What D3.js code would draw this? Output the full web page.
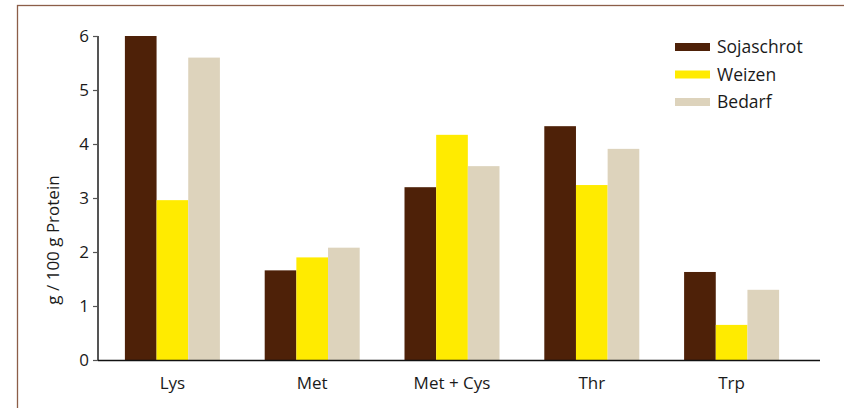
<!DOCTYPE html>
<html>
<head>
<meta charset="utf-8">
<script src="https://cdn.jsdelivr.net/npm/d3@7"></script>
<style>
  html, body { margin: 0; padding: 0; background: #fff; }
  svg { display: block; }
  text { font-family: "Open Sans", "DejaVu Sans", sans-serif; fill: #1a1a1a; }
</style>
</head>
<body>
<svg id="chart" width="844" height="408"></svg>
<script>
// Aminosäuregehalte in g / 100 g Protein
const categories = ["Lys", "Met", "Met + Cys", "Thr", "Trp"];
const seriesNames = ["Sojaschrot", "Weizen", "Bedarf"];
const sojaschrot = [6.0, 1.66, 3.2, 4.33, 1.63];
const weizen = [2.96, 1.9, 4.17, 3.24, 0.65];
const bedarf = [5.6, 2.08, 3.59, 3.91, 1.3];
const yTicks = [0, 1, 2, 3, 4, 5, 6];
const colors = ["#4e2108", "#ffeb00", "#ddd3bc"];

const seriesValues = [sojaschrot, weizen, bedarf];
const rows = categories.map((c, i) => ({
  cat: c,
  vals: seriesNames.map((s, j) => ({ series: s, value: seriesValues[j][i], color: colors[j] }))
}));

const svg = d3.select("#chart");

// Rahmen
svg.append("rect")
  .attr("x", 17.5).attr("y", 5.5)
  .attr("width", 900).attr("height", 500)
  .attr("fill", "none").attr("stroke", "#8c5e48").attr("stroke-width", 1.3);

const axisLeft = 98, axisRight = 820, y0 = 360;

const x = d3.scaleBand().domain(categories).range([102.5, 801.5]).padding(0);
const groupW = 95;
const xs = d3.scaleBand().domain(seriesNames).range([0, groupW]).padding(0);
const y = d3.scaleLinear().domain([0, 6]).range([y0, 36]);

// Balken
const groups = svg.append("g").selectAll("g")
  .data(rows).join("g")
  .attr("transform", d => `translate(${x(d.cat) + (x.bandwidth() - groupW) / 2},0)`);

groups.selectAll("rect")
  .data(d => d.vals).join("rect")
  .attr("x", d => xs(d.series))
  .attr("width", xs.bandwidth())
  .attr("y", d => y(d.value))
  .attr("height", d => y(0) - y(d.value))
  .attr("fill", d => d.color);

// y-Achse
const yAxis = d3.axisLeft(y).tickValues(yTicks).tickSize(5).tickPadding(4).tickFormat(d3.format("d"));
const gy = svg.append("g").attr("transform", `translate(${axisLeft},0)`).call(yAxis);
gy.select(".domain").attr("stroke", "#555").attr("stroke-width", 2).attr("d", `M0,${y(6)}V${y0 + 1}`);
gy.selectAll(".tick line").attr("stroke", "#555").attr("stroke-width", 1.2);
gy.selectAll(".tick text").style("font-size", "17px").attr("fill", "#1a1a1a");

// x-Achse
svg.append("line")
  .attr("x1", axisLeft).attr("x2", axisRight)
  .attr("y1", y0 + 0.5).attr("y2", y0 + 0.5)
  .attr("stroke", "#111").attr("stroke-width", 1.6);

svg.append("g").selectAll("text")
  .data(categories).join("text")
  .attr("x", d => x(d) + x.bandwidth() / 2)
  .attr("y", 389)
  .attr("text-anchor", "middle")
  .style("font-size", "17px")
  .text(d => d);

// Achsentitel
svg.append("text")
  .attr("transform", "translate(59,240) rotate(-90)")
  .attr("text-anchor", "middle")
  .style("font-size", "17px")
  .text("g / 100 g Protein");

// Legende
const legend = svg.append("g").selectAll("g")
  .data(seriesNames).join("g")
  .attr("transform", (d, i) => `translate(675,${47 + i * 27.5})`);
legend.append("rect")
  .attr("x", 0).attr("y", -4).attr("width", 35).attr("height", 8)
  .attr("fill", (d, i) => colors[i]);
legend.append("text")
  .attr("x", 42).attr("y", 0).attr("dy", "0.35em")
  .style("font-size", "17.5px")
  .text(d => d);
</script>
</body>
</html>
